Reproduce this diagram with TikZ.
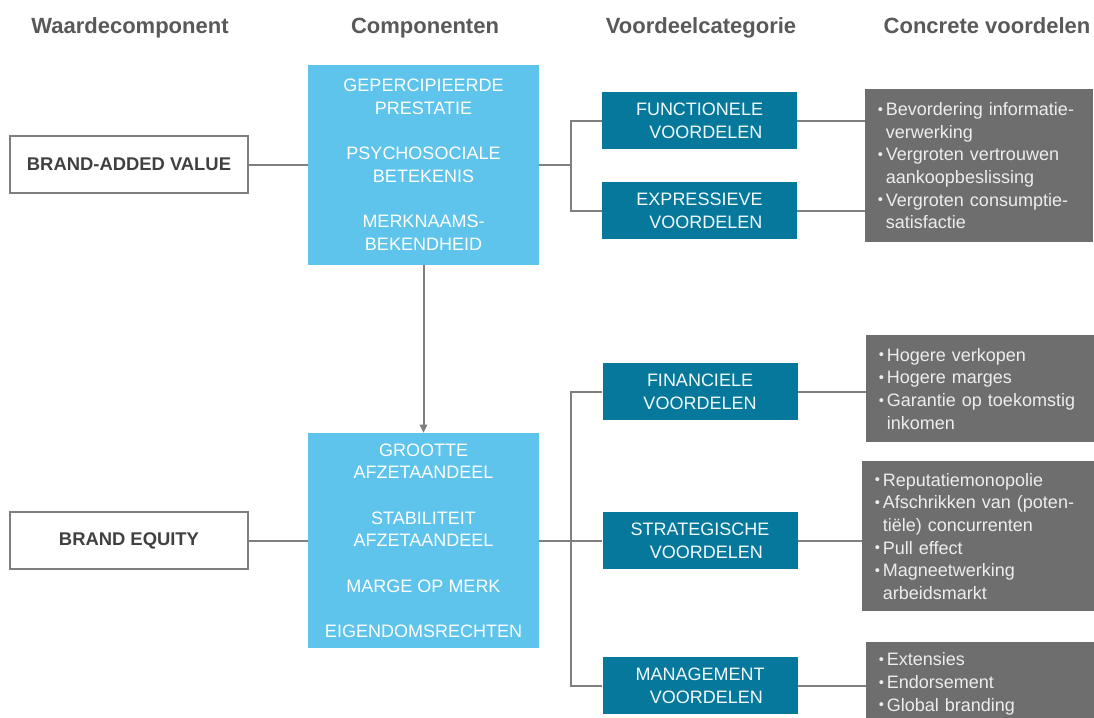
\documentclass[tikz,border=0pt]{standalone}
\usepackage{fontspec}
\setmainfont{Liberation Sans}
\usetikzlibrary{arrows.meta}
\definecolor{lblue}{HTML}{5EC4EC}
\definecolor{tealbox}{HTML}{06789B}
\definecolor{gbox}{HTML}{6E6E6E}
\definecolor{lin}{HTML}{7F7F7F}
\definecolor{hdr}{HTML}{595959}
\definecolor{btxt}{HTML}{404040}
\newcommand\bul{\makebox[6pt][l]{\raisebox{1pt}{\fontsize{11}{11}\selectfont •}}}
\newcommand\ind{\hspace*{6pt}}
\newcommand\shiftvo{\hspace*{9.5pt}VOORDELEN}
\begin{document}
\begin{tikzpicture}[x=0.75pt,y=-0.75pt,
  hdrnode/.style={font=\fontsize{16.5}{20}\selectfont\bfseries, text=hdr, anchor=base, inner sep=0pt},
  keybox/.style={draw=lin, line width=1.5pt, fill=white, minimum width=178.5pt, minimum height=42.75pt,
     font=\fontsize{13.8}{17}\selectfont\bfseries, text=btxt, inner sep=0pt},
  compbox/.style={fill=lblue, minimum width=173.25pt, text=white, align=center,
     font=\fontsize{13.5}{17}\selectfont, inner sep=0pt},
  catbox/.style={fill=tealbox, minimum width=146.25pt, minimum height=42.75pt, text=white!92!lblue, align=center,
     font=\fontsize{13.5}{17}\selectfont, inner sep=0pt},
  benbox/.style={fill=gbox, text=white!93!black, align=left, text width=152pt, inner xsep=9.5pt, inner ysep=0pt,
     anchor=north west, font=\fontsize{13.5}{17}\selectfont},
  conn/.style={draw=lin, line width=1.5pt},
  arr/.style={conn, -{Triangle[length=6pt,width=5.5pt]}},
]
\clip (0,0) rectangle (1094,717);
\fill[white] (0,0) rectangle (1094,717);

% headers
\node[hdrnode] (h1) at (130,34) {Waardecomponent};
\node[hdrnode] (h2) at (425,34) {Componenten};
\node[hdrnode] (h3) at (701,34) {Voordeelcategorie};
\node[hdrnode] (h4) at (987,34) {Concrete voordelen};

% left boxes
\node[keybox] (bav) at (129,164.5) {BRAND-ADDED VALUE};
\node[keybox] (be) at (129,540.5) {BRAND EQUITY};

% component boxes
\node[compbox, minimum height=150pt] (cb1) at (423.5,165)
  {GEPERCIPIEERDE\\PRESTATIE\\[17pt]PSYCHOSOCIALE\\BETEKENIS\\[17pt]MERKNAAMS-\\BEKENDHEID};
\node[compbox, minimum height=161.25pt] (cb2) at (423.5,540.5)
  {GROOTTE\\AFZETAANDEEL\\[17pt]STABILITEIT\\AFZETAANDEEL\\[17pt]MARGE OP MERK\\[17pt]EIGENDOMSRECHTEN};

% category boxes
\node[catbox] (fv) at (699.5,120.5) {FUNCTIONELE\\\shiftvo};
\node[catbox] (ev) at (699.5,210.5) {EXPRESSIEVE\\\shiftvo};
\node[catbox] (fin) at (700,391.5) {FINANCIELE\\VOORDELEN};
\node[catbox] (str) at (700,540.5) {STRATEGISCHE\\\shiftvo};
\node[catbox] (man) at (700,685.5) {MANAGEMENT\\\shiftvo};

% benefit boxes
\node[benbox, minimum height=114.75pt] (g1) at (865,89)
  {\bul Bevordering informatie-\\\ind verwerking\\\bul Vergroten vertrouwen\\\ind aankoopbeslissing\\\bul Vergroten consumptie-\\\ind satisfactie};
\node[benbox, minimum height=80.25pt] (g2) at (866,335)
  {\bul Hogere verkopen\\\bul Hogere marges\\\bul Garantie op toekomstig\\\ind inkomen};
\node[benbox, minimum height=112.5pt, text width=155pt] (g3) at (862,461)
  {\bul Reputatiemonopolie\\\bul Afschrikken van (poten-\\\ind tiële) concurrenten\\\bul Pull effect\\\bul Magneetwerking\\\ind arbeidsmarkt};
\node[benbox, minimum height=62.25pt] (g4) at (866,642)
  {\bul Extensies\\\bul Endorsement\\\bul Global branding};

% junctions
\coordinate (j1) at (571,165);
\coordinate (j2) at (571,540.5);

% connectors
\draw[conn] (bav.east) -- (bav.east -| cb1.west);
\draw[conn] (cb1.east) -- (j1);
\draw[conn] (fv.west) -| (j1) |- (ev.west);
\draw[conn] (fv.east) -- (fv.east -| g1.west);
\draw[conn] (ev.east) -- (ev.east -| g1.west);
\draw[arr] (cb1.south) -- (cb2.north);
\draw[conn] (be.east) -- (be.east -| cb2.west);
\draw[conn] (cb2.east) -- (str.west);
\draw[conn] (fin.west) -| (j2) |- (man.west);
\draw[conn] (fin.east) -- (fin.east -| g2.west);
\draw[conn] (str.east) -- (str.east -| g3.west);
\draw[conn] (man.east) -- (man.east -| g4.west);
\end{tikzpicture}
\end{document}
